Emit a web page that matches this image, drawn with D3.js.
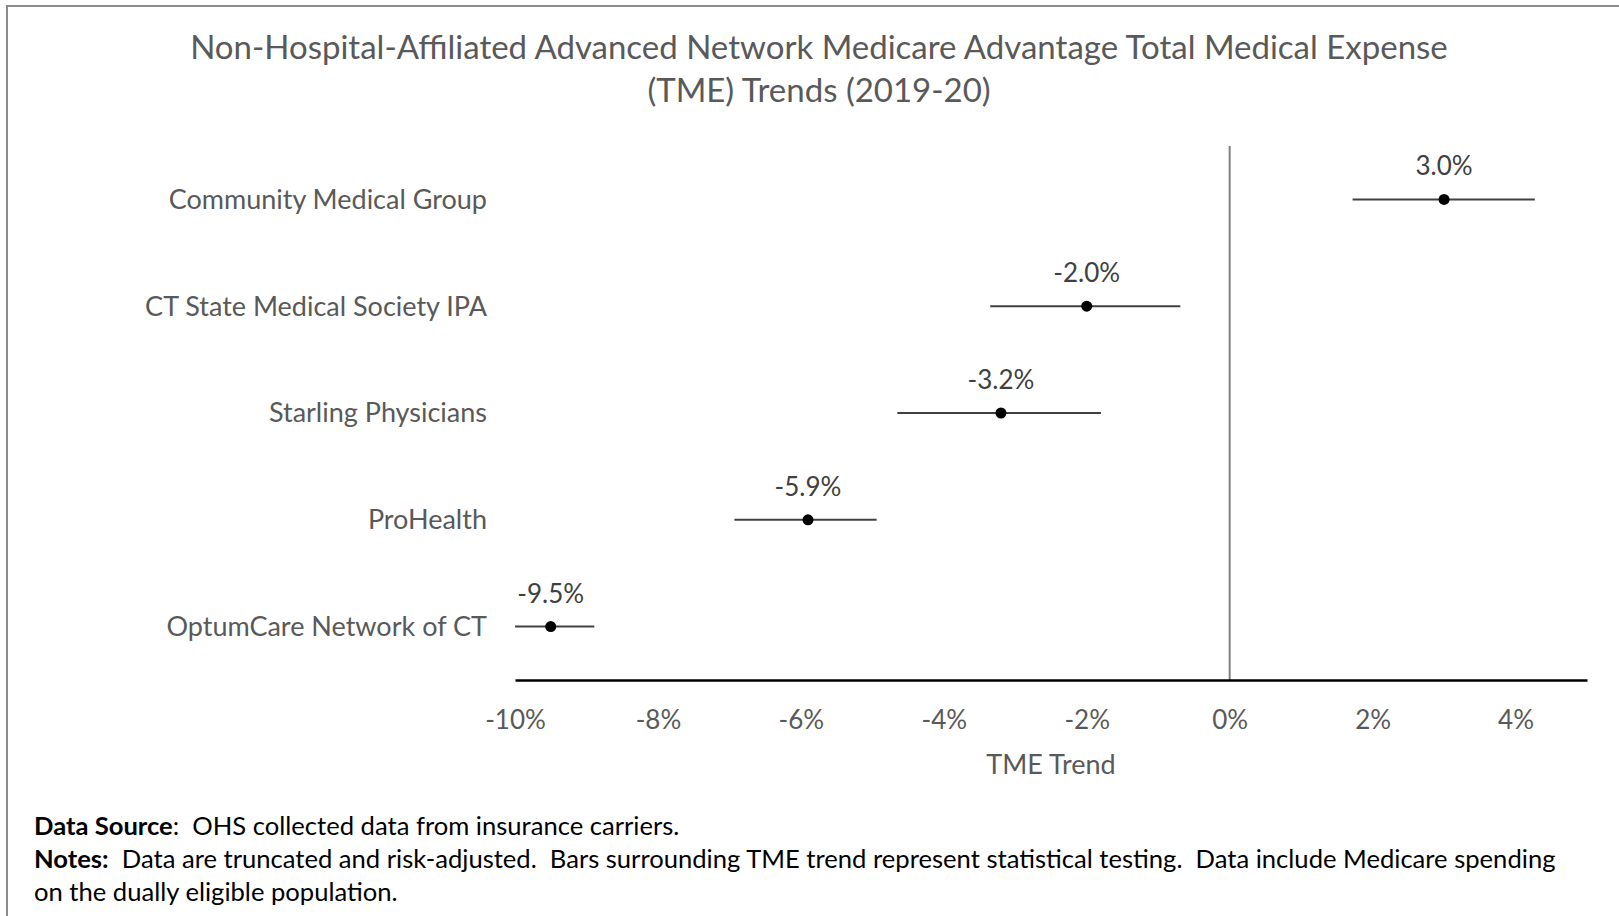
<!DOCTYPE html>
<html>
<head>
<meta charset="utf-8">
<script src="https://cdn.jsdelivr.net/npm/d3@7"></script>
<style>
  body { margin: 0; background: #fff; }
  svg { display: block; font-family: Lato, "Open Sans", sans-serif; }
  .foot text { white-space: pre; }
</style>
</head>
<body>
<div id="chart"></div>
<script>
const groups = [
  "Community Medical Group",
  "CT State Medical Society IPA",
  "Starling Physicians",
  "ProHealth",
  "OptumCare Network of CT"
];
const trend = [3.0, -2.0, -3.2, -5.9, -9.5];
const lower = [1.72, -3.35, -4.65, -6.93, -10.0];
const upper = [4.27, -0.69, -1.80, -4.94, -8.89];
const xTicks = [-10, -8, -6, -4, -2, 0, 2, 4];

const width = 1619;
const height = 916;
const margin = { top: 146, right: 32, bottom: 236, left: 515 };

const svg = d3.select("#chart")
  .append("svg")
  .attr("width", width)
  .attr("height", height);

// page frame
svg.append("path")
  .attr("d", `M7,${height} V6 H${width}`)
  .attr("fill", "none")
  .attr("stroke", "#8c8c8c")
  .attr("stroke-width", 2);

svg.append("text")
  .attr("x", 819)
  .attr("y", 59)
  .attr("text-anchor", "middle")
  .attr("fill", "#595959")
  .style("font-size", "33px")
  .text("Non-Hospital-Affiliated Advanced Network Medicare Advantage Total Medical Expense");
svg.append("text")
  .attr("x", 819)
  .attr("y", 102)
  .attr("text-anchor", "middle")
  .attr("fill", "#595959")
  .style("font-size", "33px")
  .text("(TME) Trends (2019-20)");

const x = d3.scaleLinear()
  .domain([-10, 5])
  .range([margin.left, width - margin.right]);

const y = d3.scaleBand()
  .domain(groups)
  .range([margin.top, height - margin.bottom]);

const axisY = height - margin.bottom;

// zero line
svg.append("line")
  .attr("x1", x(0)).attr("x2", x(0))
  .attr("y1", margin.top).attr("y2", axisY)
  .attr("stroke", "#808080")
  .attr("stroke-width", 2);

// x axis
const xAxis = svg.append("g")
  .attr("transform", `translate(0,${axisY})`)
  .call(d3.axisBottom(x).tickValues(xTicks).tickSize(0).tickPadding(31).tickFormat(d => d + "%"));
xAxis.select(".domain").attr("stroke", "#000").attr("stroke-width", 2.5);
xAxis.selectAll("text")
  .attr("fill", "#595959")
  .style("font-size", "26px")
  .style("font-family", "Lato, 'Open Sans', sans-serif");

svg.append("text")
  .attr("x", (x(-10) + x(5)) / 2)
  .attr("y", 774)
  .attr("text-anchor", "middle")
  .attr("fill", "#595959")
  .style("font-size", "27px")
  .text("TME Trend");

// category labels
svg.selectAll(".cat")
  .data(groups)
  .enter()
  .append("text")
  .attr("class", "cat")
  .attr("x", 487)
  .attr("y", d => y(d) + y.bandwidth() / 2)
  .attr("dy", "0.35em")
  .attr("text-anchor", "end")
  .attr("fill", "#595959")
  .style("font-size", "27px")
  .text(d => d);

const rows = groups.map((g, i) => ({ g, v: trend[i], lo: lower[i], hi: upper[i] }));

svg.selectAll(".bar")
  .data(rows)
  .enter()
  .append("line")
  .attr("class", "bar")
  .attr("x1", d => x(d.lo))
  .attr("x2", d => x(d.hi))
  .attr("y1", d => y(d.g) + y.bandwidth() / 2)
  .attr("y2", d => y(d.g) + y.bandwidth() / 2)
  .attr("stroke", "#404040")
  .attr("stroke-width", 2);

svg.selectAll(".dot")
  .data(rows)
  .enter()
  .append("circle")
  .attr("class", "dot")
  .attr("cx", d => x(d.v))
  .attr("cy", d => y(d.g) + y.bandwidth() / 2)
  .attr("r", 5.5)
  .attr("fill", "#000");

svg.selectAll(".val")
  .data(rows)
  .enter()
  .append("text")
  .attr("class", "val")
  .attr("x", d => x(d.v))
  .attr("y", d => y(d.g) + y.bandwidth() / 2 - 24)
  .attr("text-anchor", "middle")
  .attr("fill", "#404040")
  .style("font-size", "26px")
  .text(d => d.v.toFixed(1) + "%");

// footer notes
const foot = svg.append("g").attr("class", "foot").attr("fill", "#000").style("font-size", "25.6px");
const l1 = foot.append("text").attr("x", 34).attr("y", 835);
l1.append("tspan").style("font-weight", "bold").text("Data Source");
l1.append("tspan").text(":  OHS collected data from insurance carriers.");
const l2 = foot.append("text").attr("x", 34).attr("y", 868);
l2.append("tspan").style("font-weight", "bold").text("Notes:");
l2.append("tspan").text("  Data are truncated and risk-adjusted.  Bars surrounding TME trend represent statistical testing.  Data include Medicare spending");
foot.append("text").attr("x", 34).attr("y", 901).text("on the dually eligible population.");
</script>
</body>
</html>
